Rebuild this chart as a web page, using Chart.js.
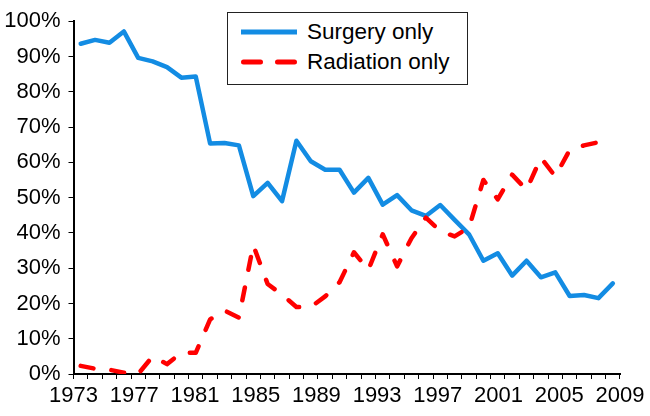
<!DOCTYPE html>
<html><head><meta charset="utf-8">
<script src="https://cdn.jsdelivr.net/npm/chart.js@4.4.0/dist/chart.umd.min.js"></script>
<style>
html,body{margin:0;padding:0;background:#fff;}
#wrap{position:relative;width:650px;height:416px;}
#legend{position:absolute;left:227px;top:12px;width:239px;height:71px;border:1.5px solid #222;background:#fff;font-family:"Liberation Sans",Arial,sans-serif;font-size:22.5px;color:#000;}
.row{position:absolute;left:0;height:30px;display:flex;align-items:center;white-space:nowrap;}
.row svg{margin-left:13px;margin-right:10px;}
</style></head><body>
<div id="wrap"><canvas id="c" width="650" height="416"></canvas><div id="legend"></div></div>
<script>
// Data categories (one per year)
const years = [1973,1974,1975,1976,1977,1978,1979,1980,1981,1982,1983,1984,1985,1986,1987,1988,1989,1990,1991,1992,1993,1994,1995,1996,1997,1998,1999,2000,2001,2002,2003,2004,2005,2006,2007,2008,2009,2010];
// Surgery only (%)
const surgeryOnly = [93.6,94.7,93.9,97.1,89.6,88.6,87.0,84.0,84.3,65.3,65.5,64.8,50.4,54.2,49.0,66.1,60.3,57.9,57.9,51.4,55.6,48.0,50.7,46.4,44.8,47.9,43.7,39.6,32.1,34.2,27.9,32.1,27.4,28.8,22.1,22.4,21.5,25.7];
// Radiation only (%)
const radiationOnly = [2.3,1.5,1.2,0.4,0.0,5.0,2.8,6.0,6.0,15.5,18.0,16.0,36.5,25.5,22.5,19.0,19.0,22.0,26.0,34.5,29.5,39.6,30.5,38.5,44.3,40.5,39.0,41.5,55.0,49.5,56.5,52.2,61.3,56.0,63.5,64.8,65.7,66.0];
// Axis tick labels
const xTickYears = [1973,1977,1981,1985,1989,1993,1997,2001,2005,2009];
const yTicks = [0,10,20,30,40,50,60,70,80,90,100];
const seriesNames = ['Surgery only','Radiation only'];

const FONT = '"Liberation Sans", Arial, sans-serif';
const BLUE = '#138CE3';
const RED = '#FF0000';

const chart = new Chart(document.getElementById('c'), {
  type: 'line',
  data: {
    labels: years,
    datasets: [
      { label: seriesNames[0], data: surgeryOnly, borderColor: BLUE, backgroundColor: BLUE,
        borderWidth: 4.5, pointRadius: 0, tension: 0, borderJoinStyle: 'round', borderCapStyle: 'round',
        order: 1, xAxisID: 'x', yAxisID: 'y' },
      { label: seriesNames[1], data: radiationOnly, borderColor: RED, backgroundColor: RED,
        borderWidth: 4.5, pointRadius: 0, tension: 0, borderDash: [13, 18], borderCapStyle: 'round',
        borderJoinStyle: 'round', order: 0, xAxisID: 'x', yAxisID: 'y' }
    ]
  },
  options: {
    responsive: false,
    animation: false,
    devicePixelRatio: 1,
    layout: { padding: { top: 19, right: 30, left: 0, bottom: 0 } },
    plugins: { legend: { display: false }, tooltip: { enabled: false } },
    scales: {
      x: {
        type: 'category', position: 'bottom', weight: 0, offset: true,
        grid: { offset: true, drawOnChartArea: false, drawTicks: true, tickLength: 5, color: '#000', lineWidth: 1 },
        border: { display: true, color: '#000', width: 2 },
        ticks: { display: false, autoSkip: false },
        afterFit(s) { s.height = 5; }
      },
      xl: {
        type: 'linear', axis: 'x', position: 'bottom', weight: 1, min: 1973, max: 2009,
        grid: { display: false }, border: { display: false },
        afterBuildTicks(s) { s.ticks = xTickYears.map(v => ({ value: v })); },
        ticks: { font: { family: FONT, size: 22 }, color: '#000', padding: -4, maxRotation: 0, autoSkip: false,
                 callback: v => String(v) },
        afterFit(s) { s.height = 37; }
      },
      y: {
        type: 'linear', min: 0, max: 100,
        afterBuildTicks(s) { s.ticks = yTicks.map(v => ({ value: v })); },
        grid: { drawOnChartArea: false, drawTicks: true, tickLength: 5, color: '#000', lineWidth: 1 },
        border: { display: true, color: '#000', width: 2 },
        ticks: { font: { family: FONT, size: 22 }, color: '#000', padding: 8, callback: v => v + '%' },
        afterFit(s) { s.width = 73.5; }
      }
    }
  }
});

// HTML legend built from the chart's datasets
const legend = document.getElementById('legend');
chart.data.datasets.forEach((ds, i) => {
  const row = document.createElement('div');
  row.className = 'row';
  row.style.top = (4 + i * 30) + 'px';
  const svgNS = 'http://www.w3.org/2000/svg';
  const svg = document.createElementNS(svgNS, 'svg');
  svg.setAttribute('width', '56'); svg.setAttribute('height', '10');
  const ln = document.createElementNS(svgNS, 'line');
  ln.setAttribute('x1', ds.borderDash ? '2.5' : '0'); ln.setAttribute('y1', '5');
  ln.setAttribute('x2', ds.borderDash ? '53.5' : '56'); ln.setAttribute('y2', '5');
  ln.setAttribute('stroke', ds.borderColor); ln.setAttribute('stroke-width', '5');
  ln.setAttribute('stroke-linecap', 'round');
  if (ds.borderDash) ln.setAttribute('stroke-dasharray', '17 17');
  svg.appendChild(ln);
  const txt = document.createElement('span');
  txt.textContent = ds.label;
  row.appendChild(svg); row.appendChild(txt);
  legend.appendChild(row);
});
</script>
</body></html>
